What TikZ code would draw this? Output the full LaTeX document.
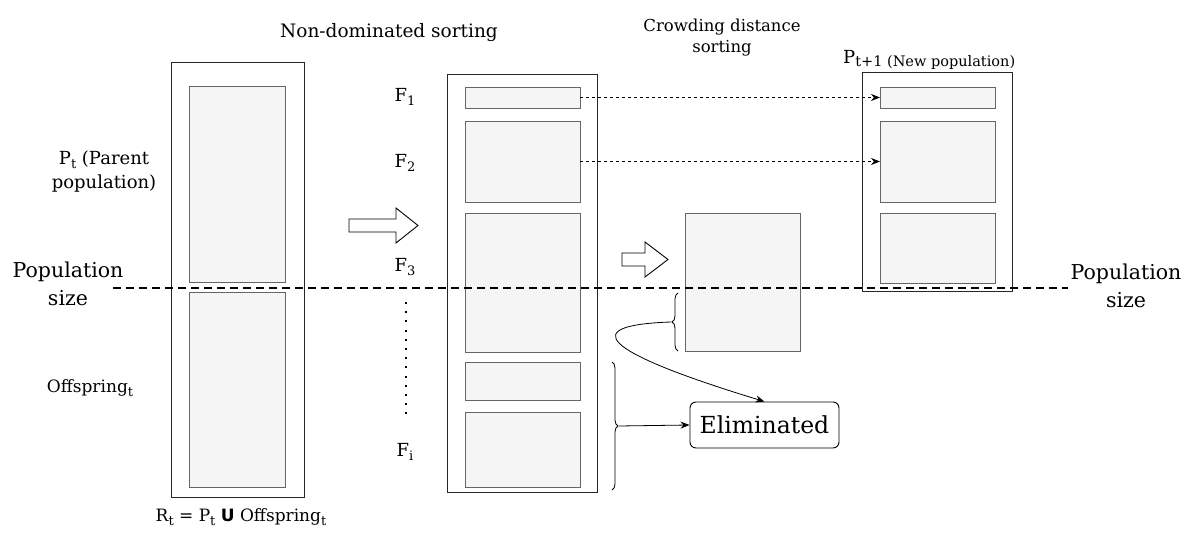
\documentclass[tikz,border=0pt]{standalone}
\usepackage{fontspec}
\setmainfont{DejaVu Serif}
\newfontfamily\usans{DejaVu Sans}
\usetikzlibrary{arrows.meta,decorations.pathreplacing}
\definecolor{boxfill}{HTML}{F5F5F5}
\definecolor{boxline}{HTML}{666666}
\newcommand{\lsub}[1]{\raisebox{-0.4ex}{\fontsize{13}{14}\selectfont #1}}
\tikzset{
  outerbox/.style={draw=black!85, line width=1pt, inner sep=0pt, outer sep=0pt, fill=white},
  innerbox/.style={draw=boxline, fill=boxfill, line width=0.9pt, inner sep=0pt, outer sep=0pt},
  lbl/.style={font=\fontsize{17}{23}\selectfont, align=center, inner sep=0pt},
  sizeline/.style={line width=1.6pt, dash pattern=on 8pt off 5pt},
  thindash/.style={line width=0.8pt, dash pattern=on 3pt off 3pt, -{Stealth[length=9pt,width=7pt]}},
  solidarrow/.style={line width=0.8pt, -{Stealth[length=9pt,width=7pt]}},
  hollow/.style={draw=black, line width=0.9pt, fill=white, line join=miter},
  bracedeco/.style={decorate, decoration={brace, amplitude=6pt}, line width=0.8pt}
}
\begin{document}
\begin{tikzpicture}[x=1pt,y=-1pt]
\useasboundingbox (0,0) rectangle (1192,540);

% titles
\node[lbl, font=\fontsize{18.5}{23}\selectfont] (t1) at (389,33) {Non-dominated sorting};
\node[lbl, font=\fontsize{16.5}{21}\selectfont] (t2) at (722,38) {Crowding distance\\sorting};
\node[lbl, anchor=west, font=\fontsize{18}{22}\selectfont] (t3) at (843,60) {P{\raisebox{-0.4ex}{\fontsize{14.5}{15}\selectfont t+1 (New population)}}};

% left column
\node[outerbox, minimum width=133, minimum height=434] (lo) at (237.5,280) {};
\node[innerbox, minimum width=96, minimum height=196] (lu) at (237,184) {};
\node[innerbox, minimum width=96, minimum height=195] (ll) at (237,389.5) {};
\node[lbl, font=\fontsize{18}{24}\selectfont] (pt) at (104,172) {P\lsub{t} (Parent\\population)};
\node[lbl, font=\fontsize{17}{20}\selectfont] (offs) at (90,388) {Offspring\lsub{t}};
\node[lbl, font=\fontsize{17}{20}\selectfont] (rt) at (241,517) {R\lsub{t} = P\lsub{t} {\usans\bfseries U} Offspring\lsub{t}};

% middle column
\node[outerbox, minimum width=150, minimum height=417] (mo) at (522,283.5) {};
\node[innerbox, minimum width=115, minimum height=21] (f1) at (522.5,97.5) {};
\node[innerbox, minimum width=115, minimum height=81] (f2) at (522.5,161.5) {};
\node[innerbox, minimum width=115, minimum height=139] (f3) at (522.5,282.5) {};
\node[innerbox, minimum width=115, minimum height=38] (f4) at (522.5,381) {};
\node[innerbox, minimum width=115, minimum height=75] (f5) at (522.5,449.5) {};
\node[lbl, font=\fontsize{18}{22}\selectfont] (lf1) at (405,97) {F\lsub{1}};
\node[lbl, font=\fontsize{18}{22}\selectfont] (lf2) at (405,163) {F\lsub{2}};
\node[lbl, font=\fontsize{18}{22}\selectfont] (lf3) at (405,267) {F\lsub{3}};
\node[lbl, font=\fontsize{18}{22}\selectfont] (lfi) at (405,452) {F\lsub{i}};
\coordinate (d1) at (406,302);
\coordinate (d2) at (406,421);
\draw[line width=2pt, dash pattern=on 2pt off 7.2pt] (d1) -- (d2);

% right column
\node[outerbox, minimum width=150, minimum height=219] (ro) at (937,182.5) {};
\node[innerbox, minimum width=115, minimum height=21] (r1) at (937.5,97.5) {};
\node[innerbox, minimum width=115, minimum height=81] (r2) at (937.5,161.5) {};
\node[innerbox, minimum width=115, minimum height=70] (r3) at (937.5,248) {};

% crowding box
\node[innerbox, minimum width=115, minimum height=138] (cd) at (742.5,282) {};

% eliminated
\node[draw, line width=0.9pt, rounded corners=6pt, minimum width=149, minimum height=46, inner sep=0pt,
      font=\fontsize{23.5}{28}\selectfont] (el) at (764.5,425) {Eliminated};

% population size line
\coordinate (ps1) at (113,288);
\coordinate (ps2) at (1068,288);
\draw[sizeline] (ps1) -- (ps2);
\node[lbl, font=\fontsize{20.5}{28}\selectfont] (psl) at (68,284) {Population\\size};
\node[lbl, font=\fontsize{20.5}{28}\selectfont] (psr) at (1126,286) {Population\\size};

% hollow arrows
\draw[hollow] (349,219) -- (396,219) -- (396,208) -- (418,225.5) -- (396,243) -- (396,232) -- (349,232) -- cycle;
\draw[hollow] (622,253) -- (645,253) -- (645,242) -- (668,259.5) -- (645,277) -- (645,266) -- (622,266) -- cycle;

% dashed transfer arrows
\draw[thindash] (f1.east) -- (r1.west);
\draw[thindash] (f2.east) -- (r2.west);

% braces
\coordinate (b1a) at (678,351);
\coordinate (b1b) at (678,293);
\draw[bracedeco] (b1a) -- node[coordinate, midway, xshift=-7pt] (b1tip) {} (b1b);
\draw[solidarrow] (b1tip) .. controls (580,325) and (595,350) .. (el.north);

\coordinate (b2a) at (612,362);
\coordinate (b2b) at (612,490);
\draw[bracedeco] (b2a) -- node[coordinate, midway, xshift=7pt] (b2tip) {} (b2b);
\draw[solidarrow] (b2tip) -- (el.west);
\end{tikzpicture}
\end{document}
